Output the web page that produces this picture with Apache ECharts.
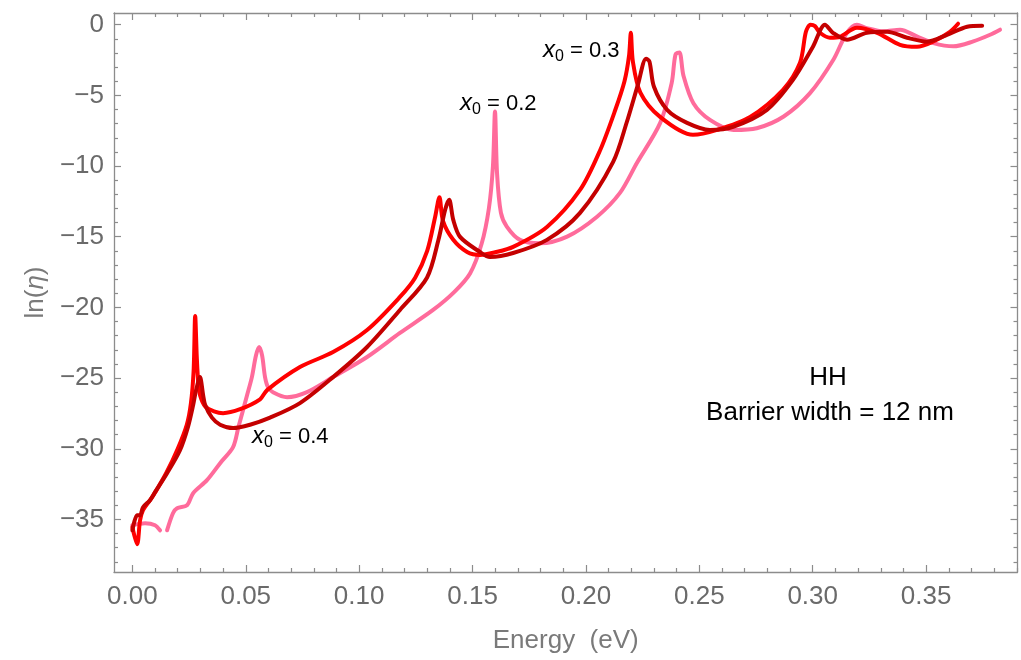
<!DOCTYPE html>
<html><head><meta charset="utf-8">
<script src="https://cdn.jsdelivr.net/npm/echarts@6/dist/echarts.min.js"></script>
<style>html,body{margin:0;padding:0;background:#fff}#c{width:1021px;height:660px}</style>
</head><body><div id="c"></div>
<script>
// ---- tick labels ----
const xTicks = [0, 0.05, 0.10, 0.15, 0.20, 0.25, 0.30, 0.35];
const yTicks = [-35, -30, -25, -20, -15, -10, -5, 0];

// ---- series: x0 = 0.2 (pink) ----
const pinkE = [0.0, 0.0056, 0.0100, 0.0122, 0.0138, 0.0153, 0.0179, 0.0197, 0.0241, 0.0268, 0.0329, 0.0387, 0.0444, 0.0468, 0.0506, 0.0527, 0.0545, 0.0559, 0.0572, 0.0585, 0.0598, 0.0620, 0.0682, 0.0770, 0.0885, 0.1035, 0.1180, 0.1326, 0.1420, 0.1489, 0.1540, 0.1572, 0.1590, 0.1599, 0.1608, 0.1625, 0.1651, 0.1709, 0.1797, 0.1917, 0.2049, 0.2150, 0.2224, 0.2327, 0.2378, 0.2395, 0.2412, 0.2430, 0.2474, 0.2547, 0.2651, 0.2753, 0.2872, 0.2988, 0.3091, 0.3150, 0.3195, 0.3238, 0.3312, 0.3385, 0.3459, 0.3532, 0.3620, 0.3708, 0.3782, 0.3826];
const pinkLn = [-35.41, -35.27, -35.41, -35.77, null, -35.77, -34.56, -34.21, -34.0, -33.14, -32.22, -31.02, -29.89, -28.45, -26.2, -24.93, -23.4, -22.8, -23.4, -24.93, -25.64, -26.0, -26.35, -25.99, -24.93, -23.51, -21.81, -20.18, -18.9, -17.6, -15.5, -13.0, -10.0, -6.14, -10.5, -13.3, -14.28, -15.22, -15.46, -14.99, -13.58, -11.9, -9.8, -6.96, -4.13, -2.1, -1.96, -3.6, -5.55, -6.73, -7.44, -7.32, -6.49, -4.84, -2.48, -0.59, 0.0, -0.24, -0.47, -0.35, -0.83, -1.30, -1.53, -1.18, -0.71, -0.35];

// ---- series: x0 = 0.3 (red) ----
const redE = [0.0, 0.0021, 0.0034, 0.0047, 0.0078, 0.0100, 0.0150, 0.0200, 0.0240, 0.0258, 0.0270, 0.0277, 0.0284, 0.0291, 0.0300, 0.0321, 0.0360, 0.0400, 0.0475, 0.0563, 0.0594, 0.0739, 0.0885, 0.1035, 0.1180, 0.1247, 0.1300, 0.1335, 0.1354, 0.1370, 0.1415, 0.1476, 0.1533, 0.1600, 0.1679, 0.1828, 0.1974, 0.2062, 0.2130, 0.2170, 0.2190, 0.2198, 0.2207, 0.2240, 0.2327, 0.2472, 0.2578, 0.2724, 0.2869, 0.2944, 0.2970, 0.2990, 0.3010, 0.3032, 0.3076, 0.3120, 0.3195, 0.3284, 0.3385, 0.3460, 0.3530, 0.3605, 0.3641];
const redLn = [-35.55, -36.75, -35.06, -34.35, -33.64, -33.1, -31.7, -30.0, -28.3, -26.8, -24.5, -20.6, -23.5, -25.4, -26.3, -27.0, -27.35, -27.48, -27.2, -26.5, -25.85, -24.22, -23.16, -21.6, -19.26, -17.9, -16.0, -13.6, -12.2, -13.9, -15.22, -16.08, -16.29, -16.1, -15.72, -14.31, -11.69, -8.9, -6.0, -4.0, -2.2, -0.57, -2.6, -4.8, -6.52, -7.79, -7.44, -6.52, -4.6, -2.69, -0.5, 0.0, -0.1, -0.57, -0.92, -0.85, -0.21, -0.57, -1.42, -1.56, -1.2, -0.5, 0.07];

// ---- series: x0 = 0.4 (dark red) ----
const darkE = [0.0, 0.0021, 0.0034, 0.0047, 0.0078, 0.0100, 0.0153, 0.0210, 0.0245, 0.0268, 0.0281, 0.0298, 0.0312, 0.0321, 0.0351, 0.0387, 0.0444, 0.0519, 0.0607, 0.0739, 0.0885, 0.1035, 0.1180, 0.1299, 0.1350, 0.1379, 0.1397, 0.1415, 0.1445, 0.1533, 0.1577, 0.1679, 0.1828, 0.1974, 0.2120, 0.2180, 0.2230, 0.2265, 0.2280, 0.2300, 0.2358, 0.2446, 0.2547, 0.2649, 0.2798, 0.2913, 0.3001, 0.3054, 0.3089, 0.3151, 0.3239, 0.3328, 0.3416, 0.3504, 0.3592, 0.3681, 0.3747];
const darkLn = [-35.77, -34.70, -34.70, -34.14, -33.64, -33.07, -31.73, -30.10, -28.47, -26.91, -25.85, -24.93, -26.2, -26.91, -27.8, -28.3, -28.54, -28.3, -27.8, -26.77, -24.93, -22.8, -20.18, -17.9, -15.2, -13.1, -12.39, -13.81, -15.01, -16.08, -16.43, -16.15, -15.22, -13.31, -9.7, -6.9, -4.2, -2.4, -2.6, -4.39, -6.02, -6.94, -7.44, -7.22, -6.02, -3.9, -1.56, 0.0, -0.57, -1.06, -0.57, -0.5, -0.92, -1.2, -0.71, -0.14, -0.07];

// ---- layout / style ----
const X_MIN = -0.0081, X_MAX = 0.3903, Y_MIN = -38.72, Y_MAX = 0.83;
const FRAME = '#8c8c8c', LABEL = '#6a6a6a';
const FONT = '"Liberation Sans", Arial, sans-serif';

function minors(majors, step, lo, hi) {
  const out = [];
  for (let k = Math.ceil(lo / step); k <= Math.floor(hi / step); k++) {
    const v = +(k * step).toFixed(6);
    if (!majors.some(m => Math.abs(m - v) < 1e-9)) out.push(v);
  }
  return out;
}
const xMinor = minors(xTicks, 0.01, X_MIN, X_MAX);
const yMinor = minors(yTicks, 1, Y_MIN, Y_MAX);

function xAx(pos, ticks, len, line, label) {
  const a = {
    type: 'value', position: pos, min: X_MIN, max: X_MAX, gridIndex: 0,
    axisLine: { show: line, onZero: false, lineStyle: { color: FRAME, width: 1.3 } },
    axisTick: { show: true, inside: true, length: len, customValues: ticks, lineStyle: { color: FRAME, width: 1.2 } },
    axisLabel: { show: false },
    splitLine: { show: false }
  };
  if (label) {
    a.axisLabel = { show: true, customValues: ticks, formatter: v => v.toFixed(2), fontSize: 26, color: LABEL, fontFamily: FONT, margin: 12 };
    a.name = 'Energy  (eV)';
    a.nameLocation = 'middle';
    a.nameGap = 56;
    a.nameTextStyle = { fontSize: 26, color: '#7a7a7a', fontFamily: FONT };
  }
  return a;
}
function yAx(pos, ticks, len, line, label) {
  const a = {
    type: 'value', position: pos, min: Y_MIN, max: Y_MAX, gridIndex: 0,
    axisLine: { show: line, onZero: false, lineStyle: { color: FRAME, width: 1.3 } },
    axisTick: { show: true, inside: true, length: len, customValues: ticks, lineStyle: { color: FRAME, width: 1.2 } },
    axisLabel: { show: false },
    splitLine: { show: false }
  };
  if (label) {
    a.axisLabel = { show: true, customValues: ticks, formatter: v => v === 0 ? '0' : (v < 0 ? '\u2212' + Math.abs(v) : '' + v), fontSize: 26, color: LABEL, fontFamily: FONT, margin: 10 };
    a.name = 'ln({i|\u03B7})';
    a.nameLocation = 'middle';
    a.nameGap = 53;
    a.nameTextStyle = { fontSize: 26, color: '#7a7a7a', fontFamily: FONT, rich: { i: { fontStyle: 'italic', fontSize: 26, color: '#7a7a7a', fontFamily: FONT } } };
  }
  return a;
}

const zip = (a, b) => a.map((v, i) => [v, b[i]]);
function line(name, E, L, color, z) {
  return { name, type: 'line', xAxisIndex: 0, yAxisIndex: 0, data: zip(E, L), showSymbol: false, symbol: 'none',
    smooth: 0.3,
    connectNulls: false, lineStyle: { color, width: 4, join: 'round', cap: 'round' }, itemStyle: { color }, z, animation: false };
}

function x0Label(val, x, y) {
  return { type: 'text', x, y, z: 100, style: {
    text: '{i|x}{s|0}{n| = ' + val + '}', textVerticalAlign: 'bottom', fill: '#000',
    rich: {
      i: { fontStyle: 'italic', fontSize: 24, fontFamily: FONT, fill: '#000', verticalAlign: 'bottom', padding: [0, 0, 3, 0] },
      s: { fontSize: 16, fontFamily: FONT, fill: '#000', verticalAlign: 'bottom' },
      n: { fontSize: 22, fontFamily: FONT, fill: '#000', verticalAlign: 'bottom', padding: [0, 0, 3, 0] }
    } } };
}

const chart = echarts.init(document.getElementById('c'), null, { renderer: 'canvas' });
chart.setOption({
  animation: false,
  backgroundColor: '#fff',
  grid: { left: 114, top: 13, right: 3.5, bottom: 88, containLabel: false },
  xAxis: [xAx('bottom', xTicks, 7, true, true), xAx('bottom', xMinor, 4, false, false), xAx('top', xTicks, 7, true, false), xAx('top', xMinor, 4, false, false)],
  yAxis: [yAx('left', yTicks, 7, true, true), yAx('left', yMinor, 4, false, false), yAx('right', yTicks, 7, true, false), yAx('right', yMinor, 4, false, false)],
  series: [
    line('x0 = 0.2', pinkE, pinkLn, '#FF6B9B', 2),
    line('x0 = 0.3', redE, redLn, '#FF0000', 3),
    line('x0 = 0.4', darkE, darkLn, '#C40000', 4)
  ],
  graphic: [
    x0Label('0.4', 252, 451),
    x0Label('0.2', 460, 118),
    x0Label('0.3', 543, 65),
    { type: 'text', x: 828, y: 378, z: 100, style: { text: 'HH', font: '26px ' + FONT, fill: '#000', textAlign: 'center', textVerticalAlign: 'middle' } },
    { type: 'text', x: 830, y: 413, z: 100, style: { text: 'Barrier width = 12 nm', font: '26px ' + FONT, fill: '#000', textAlign: 'center', textVerticalAlign: 'middle' } }
  ]
});
</script>
</body></html>
